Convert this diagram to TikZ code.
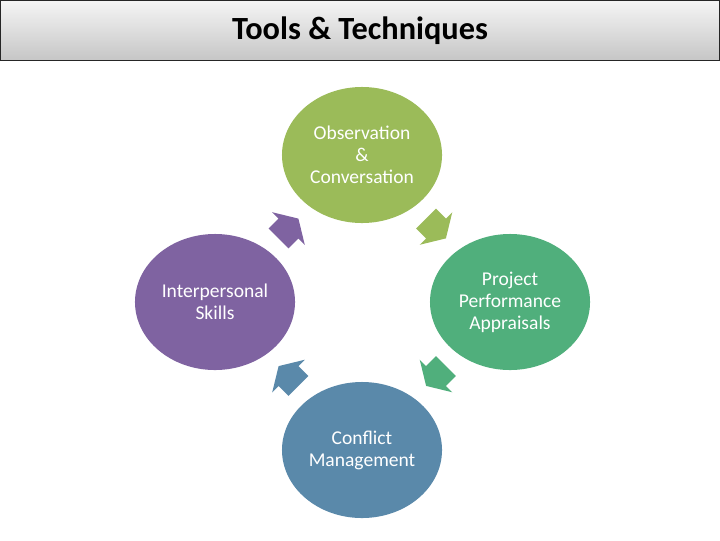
\documentclass[tikz,border=0pt]{standalone}
\usepackage{fontspec}
\setmainfont{Carlito}
\usetikzlibrary{calc,shapes.geometric}

\definecolor{obsgreen}{HTML}{9BBB59}
\definecolor{appgreen}{HTML}{50AF7C}
\definecolor{confblue}{HTML}{5A89AA}
\definecolor{perpurple}{HTML}{7F63A1}

\tikzset{
    blob/.style={ellipse, minimum width=4cm, minimum height=3.4cm, inner sep=0pt,
        align=center, text=white, font=\fontsize{13.9}{15.6}\selectfont},
    titlebar/.style={draw=black!85, line width=0.8pt, top color=gray!8, bottom color=gray!45,
        minimum width=17.97cm, minimum height=1.5cm, inner sep=0pt,
        font=\fontsize{23}{27}\selectfont\bfseries}
}

\begin{document}
\begin{tikzpicture}[x=0.025cm,y=-0.025cm]
    \useasboundingbox (0,0) rectangle (720,540);
    \node[titlebar] (title) at (360,30.5) {\raisebox{-1.5pt}{Tools \& Techniques}};

    \node[blob, fill=obsgreen] (obs) at (362,155) {Observation\\\&\\Conversation};
    \node[blob, fill=appgreen] (app) at (510,302) {Project\\Performance\\Appraisals};
    \node[blob, fill=confblue] (conf) at (362,450) {Conflict\\Management};
    \node[blob, fill=perpurple] (skill) at (215,302) {Interpersonal\\Skills};

    % block arrows half way between the ellipses
    \foreach \a/\b/\r/\c in {skill/obs/45/perpurple, obs/app/-45/obsgreen,
                             app/conf/-135/appgreen, conf/skill/135/confblue}
        \fill[\c, shift={($(\a.center)!0.5!(\b.center)$)}, rotate=\r]
            (14,0) -- (0,23) -- (0,14) -- (-14,14) -- (-14,-14) -- (0,-14) -- (0,-23) -- cycle;
\end{tikzpicture}
\end{document}
